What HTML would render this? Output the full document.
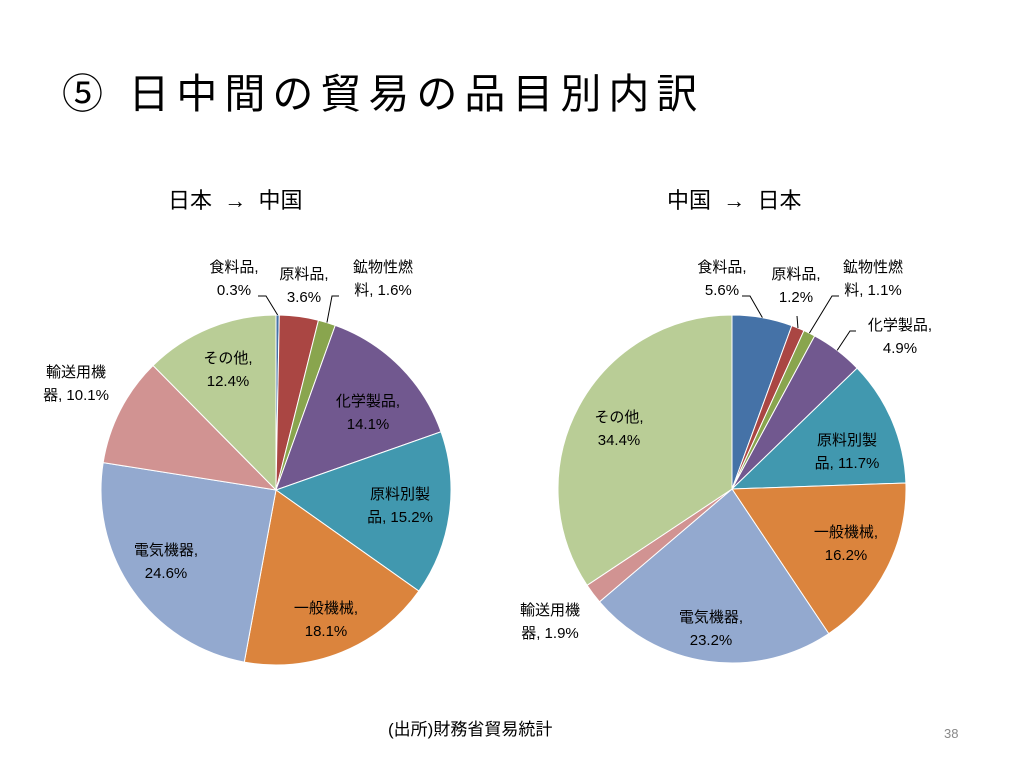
<!DOCTYPE html>
<html><head><meta charset="utf-8"><style>
body{margin:0;width:1024px;height:768px;background:#fff;position:relative;overflow:hidden;font-family:"Liberation Sans","Noto Sans CJK JP",sans-serif;color:#000}
.t{position:absolute;white-space:nowrap}
.lb{position:absolute;font-size:15px;line-height:23px;text-align:center;white-space:nowrap;transform:translateX(-50%)}
</style></head><body>
<div class="t" style="left:62px;top:60px;font-size:41px;letter-spacing:7px">⑤ 日中間の貿易の品目別内訳</div>
<div class="t" style="left:168px;top:183px;font-size:22px">日本 &nbsp;→ &nbsp;中国</div>
<div class="t" style="left:667px;top:183px;font-size:22px">中国 &nbsp;→ &nbsp;日本</div>
<svg id="svg" width="1024" height="768" style="position:absolute;left:0;top:0"></svg>

<div class="lb" style="left:234px;top:256px">食料品,<br>0.3%</div>
<div class="lb" style="left:304px;top:263px">原料品,<br>3.6%</div>
<div class="lb" style="left:383px;top:256px">鉱物性燃<br>料, 1.6%</div>
<div class="lb" style="left:368px;top:390px">化学製品,<br>14.1%</div>
<div class="lb" style="left:400px;top:483px">原料別製<br>品, 15.2%</div>
<div class="lb" style="left:326px;top:597px">一般機械,<br>18.1%</div>
<div class="lb" style="left:166px;top:539px">電気機器,<br>24.6%</div>
<div class="lb" style="left:76px;top:361px">輸送用機<br>器, 10.1%</div>
<div class="lb" style="left:228px;top:347px">その他,<br>12.4%</div>

<div class="lb" style="left:722px;top:256px">食料品,<br>5.6%</div>
<div class="lb" style="left:796px;top:263px">原料品,<br>1.2%</div>
<div class="lb" style="left:873px;top:256px">鉱物性燃<br>料, 1.1%</div>
<div class="lb" style="left:900px;top:314px">化学製品,<br>4.9%</div>
<div class="lb" style="left:847px;top:429px">原料別製<br>品, 11.7%</div>
<div class="lb" style="left:846px;top:521px">一般機械,<br>16.2%</div>
<div class="lb" style="left:711px;top:606px">電気機器,<br>23.2%</div>
<div class="lb" style="left:550px;top:599px">輸送用機<br>器, 1.9%</div>
<div class="lb" style="left:619px;top:406px">その他,<br>34.4%</div>

<div class="t" style="left:388px;top:715px;font-size:17px">(出所)財務省貿易統計</div>
<div class="t" style="left:944px;top:726px;font-size:13px;color:#888">38</div>
<script>
const categories=["食料品","原料品","鉱物性燃料","化学製品","原料別製品","一般機械","電気機器","輸送用機器","その他"];
const japanToChina=[0.3,3.6,1.6,14.1,15.2,18.1,24.6,10.1,12.4];
const chinaToJapan=[5.6,1.2,1.1,4.9,11.7,16.2,23.2,1.9,34.4];
const colors=["#4572a7","#aa4643","#89a54e","#71588f","#4198af","#db843d","#93a9cf","#d19392","#b9cd96"];
const svg=document.getElementById('svg');
const NS="http://www.w3.org/2000/svg";
function pt(cx,cy,r,a){return [cx+r*Math.sin(a),cy-r*Math.cos(a)];}
function drawPie(vals,cx,cy,r,side,leaders){
  const tot=vals.reduce((a,b)=>a+b,0);let a0=0;
  vals.forEach((v,i)=>{
    const a1=a0+v/tot*2*Math.PI;
    const p0=pt(cx,cy,r,a0),p1=pt(cx,cy,r,a1);
    const p=document.createElementNS(NS,'path');
    p.setAttribute('d',`M${cx},${cy}L${p0[0]},${p0[1]}A${r},${r} 0 ${a1-a0>Math.PI?1:0} 1 ${p1[0]},${p1[1]}Z`);
    p.setAttribute('fill',colors[i]);p.setAttribute('stroke','#fff');p.setAttribute('stroke-width','1');
    
    
    svg.appendChild(p);
    if(leaders[i]){
      const m=pt(cx,cy,r,(a0+a1)/2);const L=leaders[i];
      const l=document.createElementNS(NS,'polyline');
      l.setAttribute('points',`${L[0]},${L[1]} ${L[2]},${L[1]} ${m[0]},${m[1]}`);
      l.setAttribute('fill','none');l.setAttribute('stroke','#000');l.setAttribute('stroke-width','1');
      
      
      svg.appendChild(l);
    }
    a0=a1;
  });
}
drawPie(japanToChina,276,490,175,'left',{0:[258,296,266],2:[339,296,332]});
drawPie(chinaToJapan,732,489,174,'right',{0:[742,296,750],1:[797,316,797],2:[839,296,832],3:[856,331,850]});
</script>
</body></html>
